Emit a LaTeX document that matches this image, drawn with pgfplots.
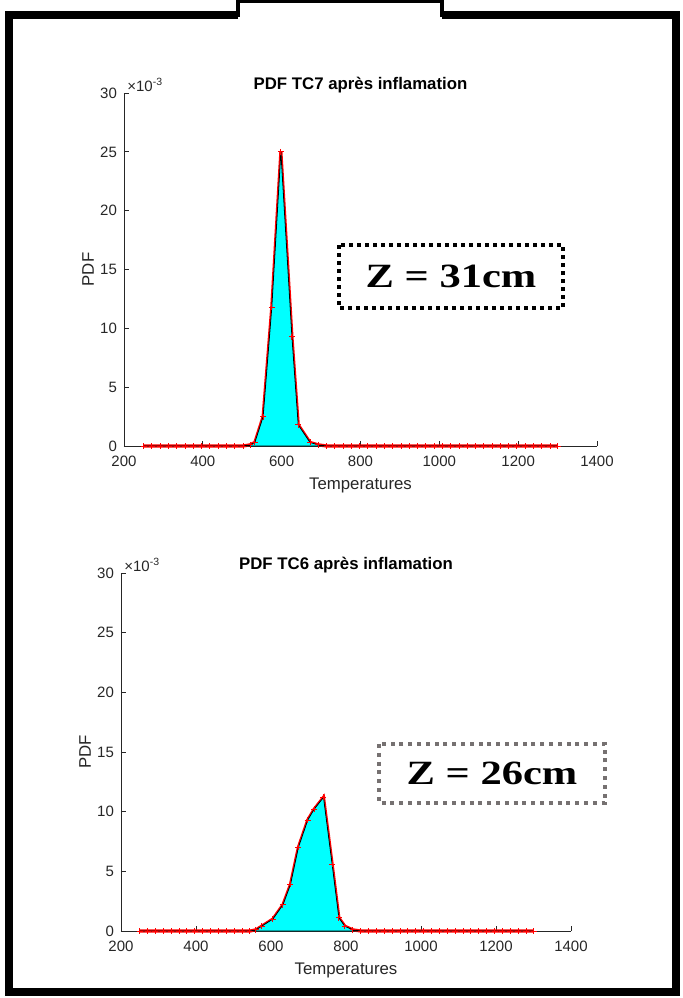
\documentclass[border=0pt]{standalone}
\usepackage{pgfplots}
\usepackage{pgfplotstable}
\usepackage{graphicx}
\pgfplotsset{compat=1.18}
\usepackage{fontspec}
\setmainfont{Liberation Sans}
\newfontfamily\serifb{Liberation Serif}
\definecolor{mgray}{rgb}{0.15,0.15,0.15}
\definecolor{boxgray}{RGB}{118,113,113}
\definecolor{mcyan}{RGB}{0,255,255}

\pgfplotstableread{
x y
250 0
271 0
292 0
313 0
334 0
355 0
376 0
397 0
418 0
439 0
460 0
481 0
502 0
520 0.0001
532 0.0003
553 0.0025
575 0.0118
598 0.0250
626 0.0093
642 0.0018
672 0.0003
693 0.0001
714 0
735 0
756 0
777 0
798 0
819 0
840 0
861 0
882 0
903 0
924 0
945 0
966 0
987 0
1008 0
1029 0
1050 0
1071 0
1092 0
1113 0
1134 0
1155 0
1176 0
1197 0
1218 0
1239 0
1260 0
1281 0
1300 0
}\topdata

\pgfplotstableread{
x y
250 0
271 0
292 0
313 0
334 0
355 0
376 0
397 0
418 0
439 0
460 0
481 0
502 0
523 0
544 0
560 0.0001
575 0.0004
605 0.0010
632 0.0022
652 0.0039
673 0.0070
698 0.0093
715 0.0102
740 0.0112
763 0.0056
781 0.0011
797 0.0004
818 0.0001
839 0
860 0
881 0
902 0
923 0
944 0
965 0
986 0
1007 0
1028 0
1049 0
1070 0
1091 0
1112 0
1133 0
1154 0
1175 0
1196 0
1217 0
1238 0
1259 0
1280 0
1300 0
}\botdata

\pgfplotsset{
  pdfstyle/.style={
    anchor=south west, scale only axis,
    xmin=200, xmax=1400, ymin=0, ymax=0.03,
    axis lines=left, axis line style={-, mgray, line width=0.4pt},
    xtick={200,400,600,800,1000,1200,1400},
    ytick={0,0.005,0.01,0.015,0.02,0.025,0.03},
    yticklabels={0,5,10,15,20,25,30},
    scaled y ticks=false, scaled x ticks=false,
    /pgf/number format/assume math mode=true,
    /pgf/number format/1000 sep={},
    tick style={mgray, line width=0.4pt}, major tick length=2.5pt,
    tick align=inside,
    ticklabel style={font=\fontsize{7.5}{8}\selectfont, text=mgray},
    xticklabel style={yshift=-1.5pt},
    clip=false,
  }
}

\newcommand{\decor}[1]{%
  \node[anchor=west, inner sep=0pt, text=mgray, font=\fontsize{7.5}{8}\selectfont] at ([xshift=1.5pt, yshift=4pt]rel axis cs:0,1) {×10\textsuperscript{-3}};
  \node[anchor=base, inner sep=0pt, font=\bfseries\fontsize{8.4}{9}\selectfont] at ([yshift=2pt]rel axis cs:0.5,1) {#1};
  \node[anchor=center, inner sep=0pt, text=mgray, font=\fontsize{8.4}{9}\selectfont] at ([yshift=-19.5pt]rel axis cs:0.5,0) {Temperatures};
  \node[anchor=center, inner sep=0pt, rotate=90, text=mgray, font=\fontsize{8.4}{9}\selectfont] at ([xshift=-18pt]rel axis cs:0,0.5) {PDF};
}

\begin{document}
\begin{tikzpicture}[x=0.5pt,y=-0.5pt]
\path[use as bounding box] (0,0) rectangle (682,998);
% frame
\draw[line width=4pt] (238,15) -- (9,15) -- (9,992) -- (676,992) -- (676,15) -- (442,15);
\draw[line width=2pt] (238,0) -- (238,17);
\draw[line width=2pt] (442,0) -- (442,17);
\draw[line width=1.5pt] (238,1.5) -- (442,1.5);

\begin{axis}[pdfstyle, at={(62pt,-223pt)}, width=236.5pt, height=176.5pt]
\addplot[red, line width=1.6pt, mark=+, mark size=1.5pt, mark options={line width=0.5pt}] table {\topdata};
\addplot[fill=mcyan, draw=black, line width=0.4pt] table {\topdata} \closedcycle;
\decor{PDF TC7 après inflamation}
\end{axis}

\begin{axis}[pdfstyle, at={(60.5pt,-465.5pt)}, width=225pt, height=179pt]
\addplot[red, line width=1.6pt, mark=+, mark size=1.5pt, mark options={line width=0.5pt}] table {\botdata};
\addplot[fill=mcyan, draw=black, line width=0.4pt] table {\botdata} \closedcycle;
\decor{PDF TC6 après inflamation}
\end{axis}

% annotation boxes
\draw[black, line width=2pt, dash pattern=on 2pt off 2pt] (339,245) rectangle (563,308);
\node at (451,276) {\scalebox{1.25}[1]{\serifb\bfseries\fontsize{17}{18}\selectfont Z = 31cm}};
\draw[boxgray, line width=2pt, dash pattern=on 2pt off 2.4pt] (379,744) rectangle (605,803);
\node at (492,773) {\scalebox{1.25}[1]{\serifb\bfseries\fontsize{17}{18}\selectfont Z = 26cm}};
\end{tikzpicture}
\end{document}
